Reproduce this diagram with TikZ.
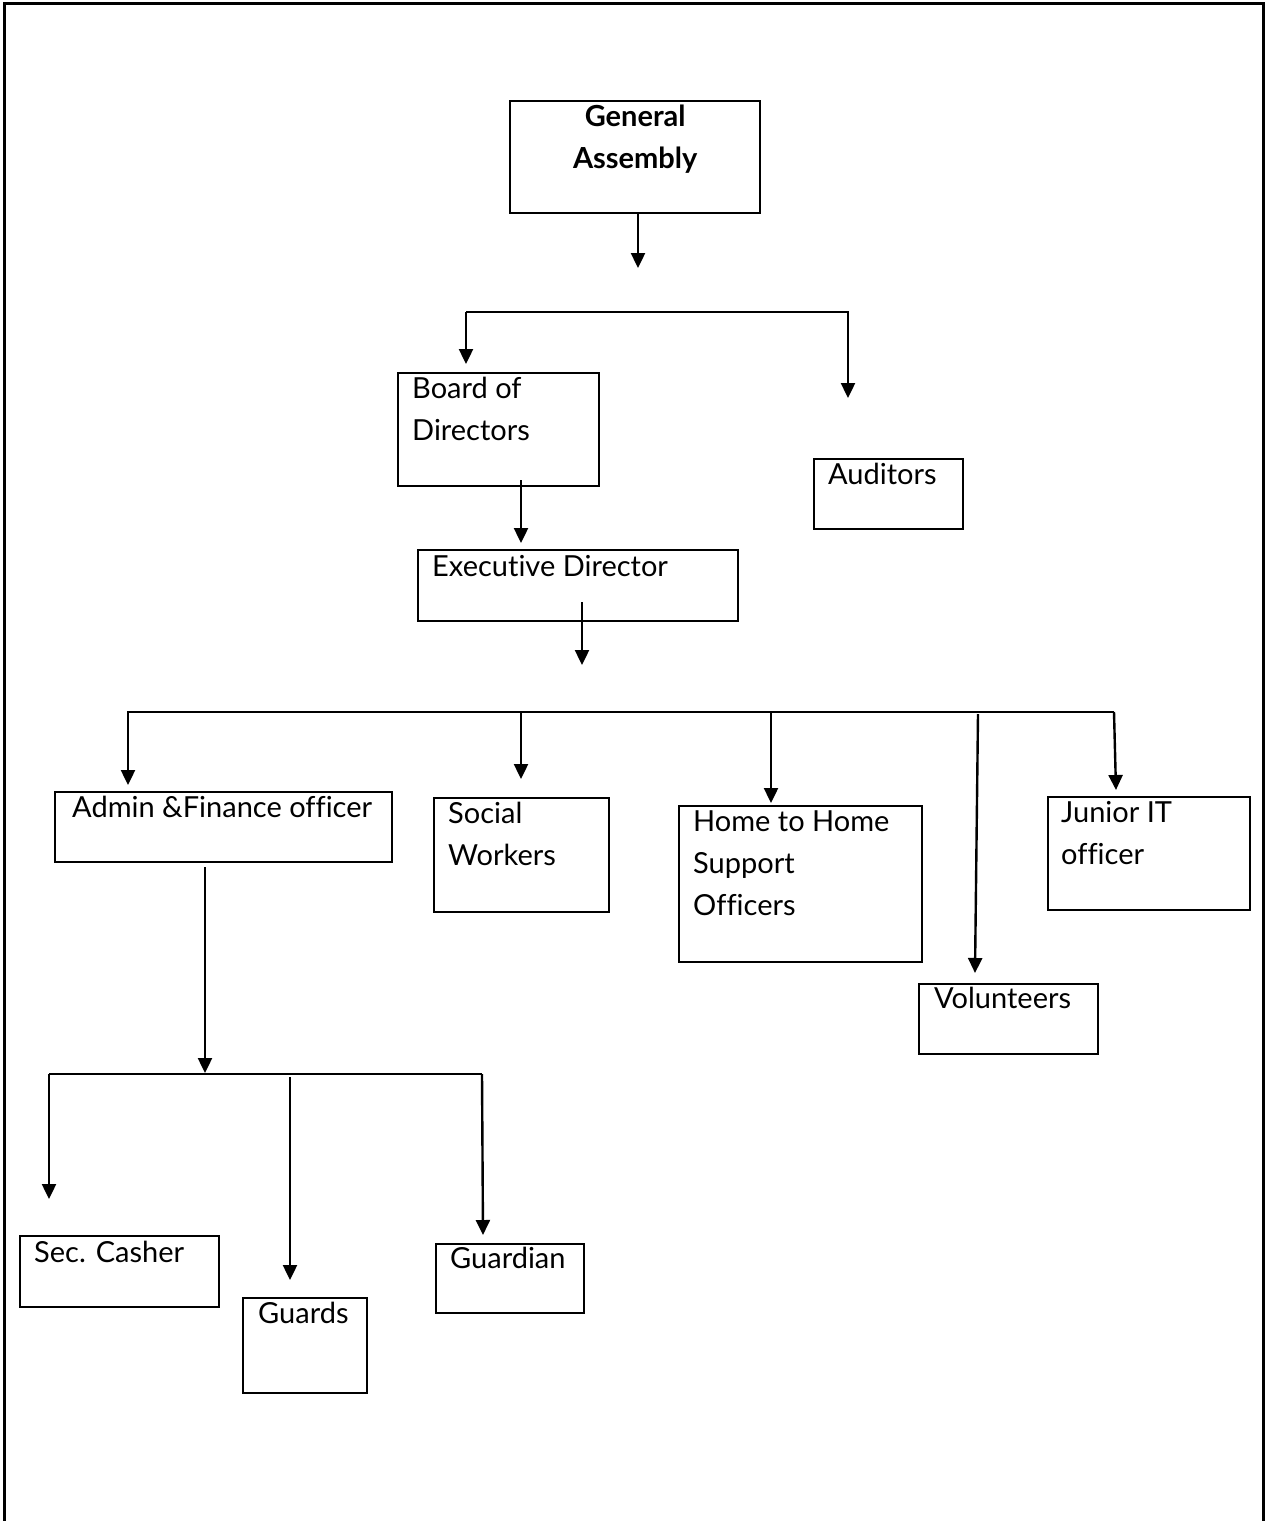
\documentclass[tikz,border=0pt]{standalone}
\usepackage{fontspec}
\setmainfont{Lato}[Ligatures=NoCommon]
\usetikzlibrary{arrows.meta,positioning,calc}

\begin{document}
\begin{tikzpicture}[
    x=1pt, y=-1pt,
    unit/.style={draw, line width=2.4pt, anchor=north west, inner sep=0pt},
    txt/.style={anchor=north west, inner sep=0pt, align=left,
                font=\fontsize{29}{42}\selectfont},
    arr/.style={-{Triangle[length=15pt, width=14pt]}, line width=2.4pt},
    bus/.style={line width=2.2pt}
]
\useasboundingbox (0,0) rectangle (1266,1521);

% cadre
\draw[line width=3pt] (4,1521) -- (4,3) -- (1263,3) -- (1263,1521);

% Boites
\node[unit, minimum width=250pt, minimum height=112pt] (ga)  at (509,100)  {};
\node[unit, minimum width=201pt, minimum height=113pt] (bod) at (397,372)  {};
\node[unit, minimum width=149pt, minimum height=70pt]  (aud) at (813,458)  {};
\node[unit, minimum width=320pt, minimum height=71pt]  (ed)  at (417,549)  {};
\node[unit, minimum width=337pt, minimum height=70pt]  (afo) at (54,791)   {};
\node[unit, minimum width=175pt, minimum height=114pt] (sw)  at (433,797)  {};
\node[unit, minimum width=243pt, minimum height=156pt] (hh)  at (678,805)  {};
\node[unit, minimum width=202pt, minimum height=113pt] (jit) at (1047,796) {};
\node[unit, minimum width=179pt, minimum height=70pt]  (vol) at (918,983)  {};
\node[unit, minimum width=199pt, minimum height=71pt]  (sc)  at (19,1235)  {};
\node[unit, minimum width=124pt, minimum height=95pt]  (gd)  at (242,1297) {};
\node[unit, minimum width=148pt, minimum height=69pt]  (gn)  at (435,1243) {};

% Textes
\node[txt, anchor=north, align=center, font=\fontsize{29}{42}\selectfont\bfseries]
     (ga-t) at ([yshift=-5pt]ga.north) {General\\Assembly};
\node[txt] (bod-t) at ([shift={(15,5)}]bod.north west) {Board of\\Directors};
\node[txt] (aud-t) at ([shift={(15,5)}]aud.north west) {Auditors};
\node[txt] (ed-t)  at ([shift={(15,6)}]ed.north west)  {Executive Director};
\node[txt] (afo-t) at ([shift={(18,5)}]afo.north west) {Admin \&Finance officer};
\node[txt] (sw-t)  at ([shift={(15,5)}]sw.north west)  {Social\\Workers};
\node[txt] (hh-t)  at ([shift={(15,6)}]hh.north west)  {Home to Home\\Support\\Officers};
\node[txt] (jit-t) at ([shift={(14,5)}]jit.north west) {Junior IT\\officer};
\node[txt] (vol-t) at ([shift={(16,4)}]vol.north west) {Volunteers};
\node[txt] (sc-t)  at ([shift={(15,6)}]sc.north west)  {Sec. Casher};
\node[txt] (gd-t)  at ([shift={(16,5)}]gd.north west)  {Guards};
\node[txt] (gn-t)  at ([shift={(15,4)}]gn.north west)  {Guardian};

% Points libres (pointes et barres)
\coordinate (t-ga)  at (638,268);
\coordinate (b1w)   at (466,312);
\coordinate (b1e)   at (849,312);
\coordinate (t-bod) at (466,364);
\coordinate (t-aud) at (848,398);
\coordinate (t-ed)  at (521,543);
\coordinate (t-b2)  at (582,665);
\coordinate (b2w)   at (127,712);
\coordinate (b2e)   at (1114,712);
\coordinate (t-afo) at (128,785);
\coordinate (t-sw)  at (521,779);
\coordinate (t-hh)  at (771,803);
\coordinate (s-vol) at (978,714);
\coordinate (t-vol) at (975,973);
\coordinate (t-jit) at (1116,790);
\coordinate (t-b3)  at (205,1073);
\coordinate (b3w)   at (49,1074);
\coordinate (b3e)   at (482,1074);
\coordinate (t-sc)  at (49,1199);
\coordinate (s-gd)  at (290,1077);
\coordinate (t-gd)  at (290,1280);
\coordinate (t-gn)  at (483,1235);

% General Assembly -> Board / Auditors
\draw[arr] (ga.south -| t-ga) -- (t-ga);
\draw[bus] (b1w) -- (b1e);
\draw[arr] (b1w) -- (t-bod);
\draw[arr] (b1e -| t-aud) -- (t-aud);

% Board -> Executive Director
\draw[arr] ($(bod.south -| t-ed)+(0,-7)$) -- (t-ed);

% Executive Director -> services
\draw[arr] ($(ed.south -| t-b2)+(0,-20)$) -- (t-b2);
\draw[bus] (b2w) -- (b2e);
\draw[arr] (b2w -| t-afo) -- (t-afo);
\draw[arr] (b2w -| t-sw) -- (t-sw);
\draw[arr] (b2w -| t-hh) -- (t-hh);
\draw[arr] (s-vol) -- (t-vol);
\draw[arr] (b2e) -- (t-jit);

% Admin & Finance -> personnel
\draw[arr] ($(afo.south -| t-b3)+(0,4)$) -- (t-b3);
\draw[bus] (b3w) -- (b3e);
\draw[arr] (b3w) -- (t-sc);
\draw[arr] (s-gd) -- (t-gd);
\draw[arr] (b3e) -- (t-gn);
\end{tikzpicture}
\end{document}
